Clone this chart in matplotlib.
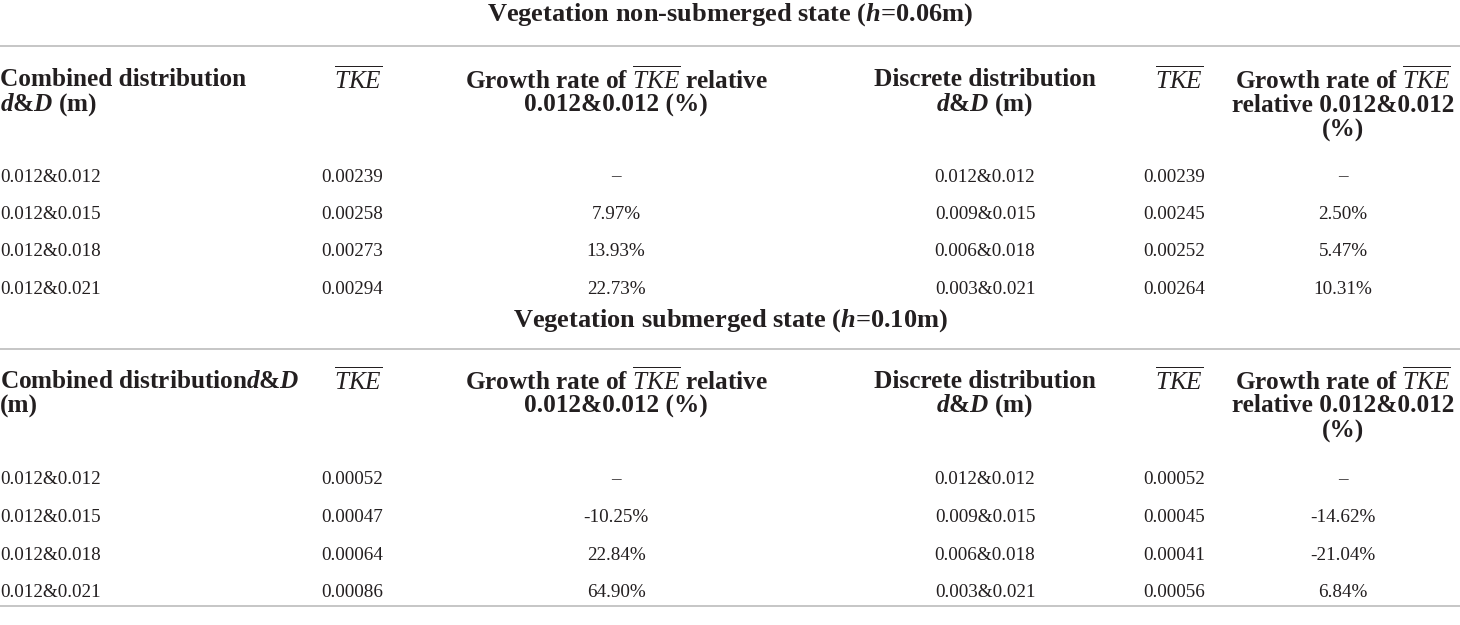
import matplotlib.pyplot as plt

plt.rcParams['font.family'] = 'Liberation Serif'
plt.rcParams['mathtext.fontset'] = 'custom'
plt.rcParams['mathtext.rm'] = 'Liberation Serif'
plt.rcParams['mathtext.it'] = 'Liberation Serif:italic'
plt.rcParams['mathtext.bf'] = 'Liberation Serif:bold'
plt.rcParams['mathtext.bfit'] = 'Liberation Serif:italic:bold'

# table contents
titles = [r'Vegetation non-submerged state ($\mathbfit{h}$=0.06m)',
          r'Vegetation submerged state ($\mathbfit{h}$=0.10m)']
tke = r'$\overline{TKE}$'
dD = r'$\mathbfit{d}$&$\mathbfit{D}$'
headers_nonsub = [
    ['Combined distribution', dD + ' (m)'],
    [tke],
    ['Growth rate of ' + tke + ' relative', '0.012&0.012 (%)'],
    ['Discrete distribution', dD + ' (m)'],
    [tke],
    ['Growth rate of ' + tke, 'relative 0.012&0.012', '(%)'],
]
headers_sub = [
    ['Combined distribution' + dD, '(m)'],
    [tke],
    ['Growth rate of ' + tke + ' relative', '0.012&0.012 (%)'],
    ['Discrete distribution', dD + ' (m)'],
    [tke],
    ['Growth rate of ' + tke, 'relative 0.012&0.012', '(%)'],
]

comb_dD = ['0.012&0.012', '0.012&0.015', '0.012&0.018', '0.012&0.021']
disc_dD = ['0.012&0.012', '0.009&0.015', '0.006&0.018', '0.003&0.021']

comb_tke_nonsub = ['0.00239', '0.00258', '0.00273', '0.00294']
comb_rate_nonsub = ['–', '7.97%', '13.93%', '22.73%']
disc_tke_nonsub = ['0.00239', '0.00245', '0.00252', '0.00264']
disc_rate_nonsub = ['–', '2.50%', '5.47%', '10.31%']

comb_tke_sub = ['0.00052', '0.00047', '0.00064', '0.00086']
comb_rate_sub = ['–', '-10.25%', '22.84%', '64.90%']
disc_tke_sub = ['0.00052', '0.00045', '0.00041', '0.00056']
disc_rate_sub = ['–', '-14.62%', '-21.04%', '6.84%']

W, H = 1460, 625
fig = plt.figure(figsize=(W / 100, H / 100), dpi=100)
ax = fig.add_axes([0, 0, 1, 1])
ax.set_xlim(0, W)
ax.set_ylim(H, 0)
ax.axis('off')

txt = '#231f20'
rule = '#bcbcbc'
title_fs = 19
head_fs = 18.2
data_fs = 13.8

# column anchors: (x, ha) for header and data
head_cols = [(0, 'left'), (334, 'left'), (616, 'center'), (985, 'center'), (1155, 'left'), (1343, 'center')]
data_cols = [(0, 'left'), (321, 'left'), (616, 'center'), (985, 'center'), (1143, 'left'), (1343, 'center')]


def block(title_y, line_y, head_y, data_y, title, headers, columns):
    ax.text(730, title_y, title, ha='center', va='center', fontsize=title_fs,
            fontweight='bold', color=txt)
    ax.axhline(line_y, color=rule, lw=1.2)
    for (x, ha), lines in zip(head_cols, headers):
        for i, line in enumerate(lines):
            ax.text(x, head_y + i * 25, line, ha=ha, va='center', fontsize=head_fs,
                    fontweight='bold', color=txt)
    for (x, ha), col in zip(data_cols, columns):
        for i, val in enumerate(col):
            ax.text(x, data_y + i * 37.5, val, ha=ha, va='center', fontsize=data_fs,
                    color=txt)


block(15, 46, 80, 177, titles[0], headers_nonsub,
      [comb_dD, comb_tke_nonsub, comb_rate_nonsub, disc_dD, disc_tke_nonsub, disc_rate_nonsub])
block(321, 349, 381, 480, titles[1], headers_sub,
      [comb_dD, comb_tke_sub, comb_rate_sub, disc_dD, disc_tke_sub, disc_rate_sub])
ax.axhline(606, color=rule, lw=1.2)

fig.savefig('out.png', dpi=100)
